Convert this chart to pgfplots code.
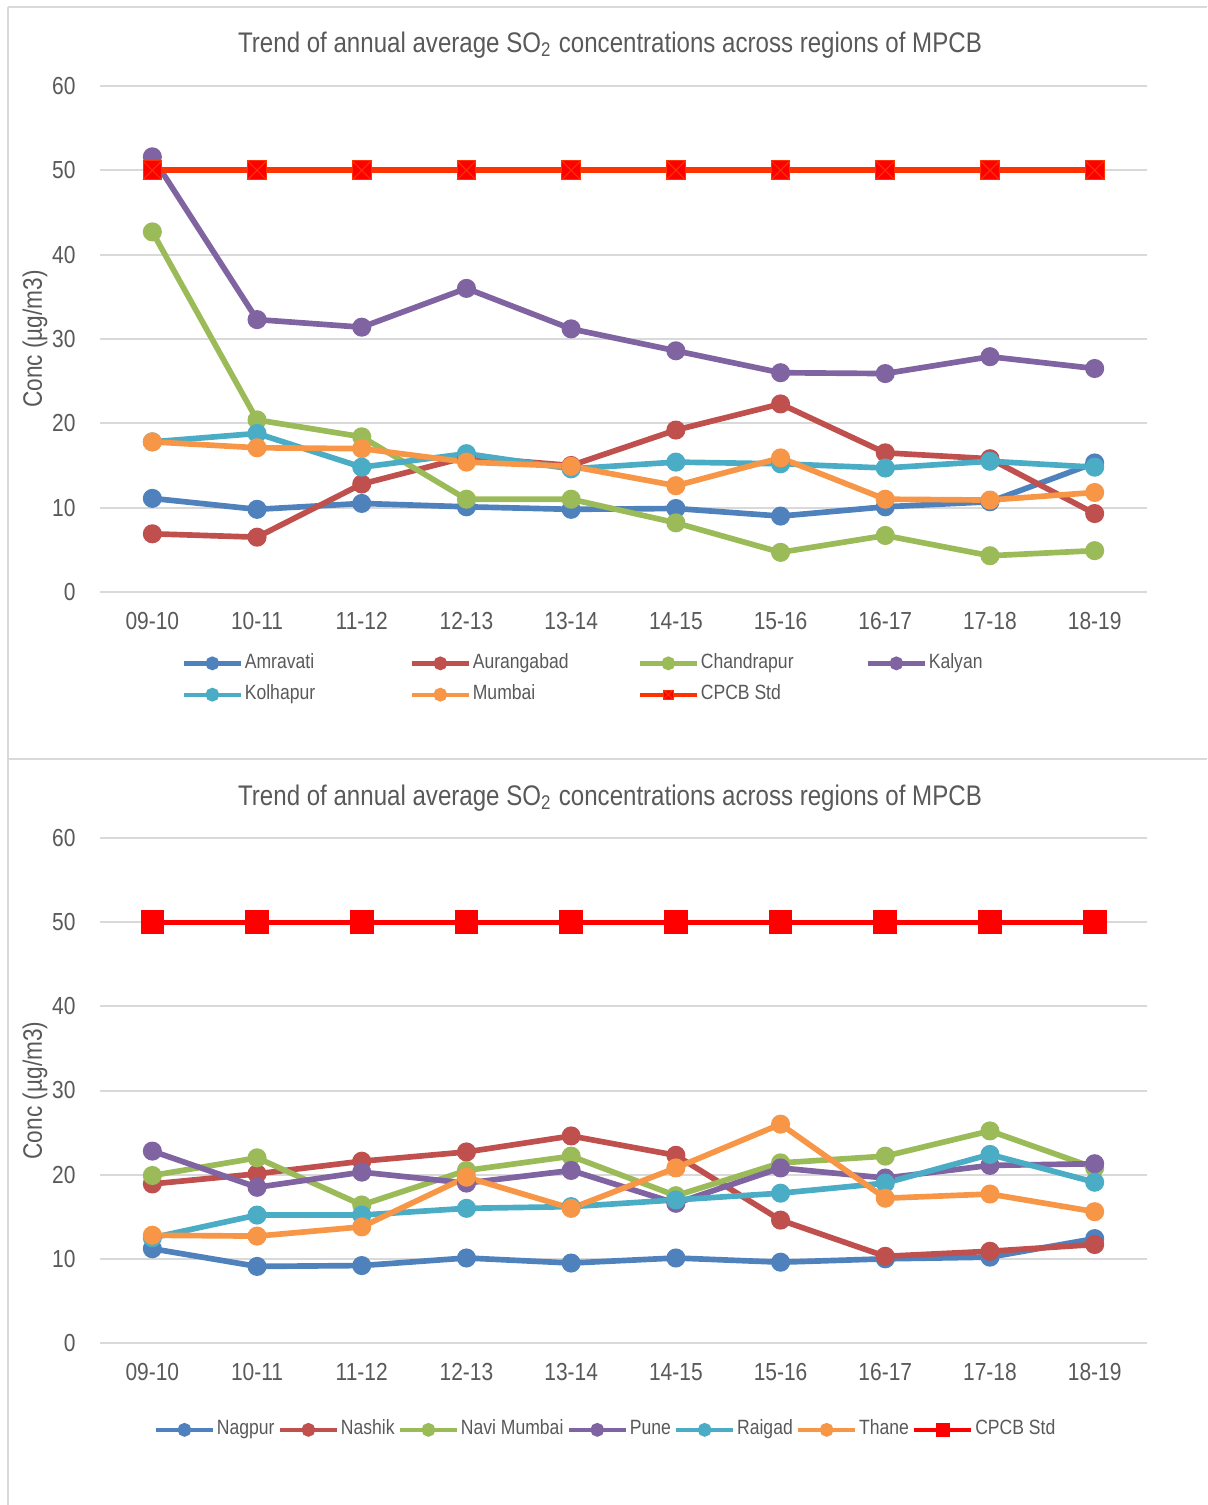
\documentclass[border=0pt]{standalone}
\usepackage{pgfplots}
\usepackage{pgfplotstable}
\pgfplotsset{compat=1.18}
\usepackage{fontspec}
\setmainfont[FakeStretch=0.85]{Liberation Sans}
\definecolor{txt}{HTML}{595959}
\definecolor{gridc}{HTML}{D9D9D9}
\definecolor{cA}{HTML}{4F81BD}
\definecolor{cB}{HTML}{C0504D}
\definecolor{cC}{HTML}{9BBB59}
\definecolor{cD}{HTML}{8064A2}
\definecolor{cE}{HTML}{4BACC6}
\definecolor{cF}{HTML}{F79646}
\definecolor{cpcbA}{HTML}{FF3300}
\definecolor{cpcbB}{HTML}{FF0000}

\pgfdeclareplotmark{sqx}{%
  \pgfpathrectangle{\pgfqpoint{-\pgfplotmarksize}{-\pgfplotmarksize}}{\pgfqpoint{2\pgfplotmarksize}{2\pgfplotmarksize}}%
  \pgfusepathqfillstroke
  \pgfpathmoveto{\pgfqpoint{-\pgfplotmarksize}{-\pgfplotmarksize}}%
  \pgfpathlineto{\pgfqpoint{\pgfplotmarksize}{\pgfplotmarksize}}%
  \pgfpathmoveto{\pgfqpoint{-\pgfplotmarksize}{\pgfplotmarksize}}%
  \pgfpathlineto{\pgfqpoint{\pgfplotmarksize}{-\pgfplotmarksize}}%
  \pgfusepathqstroke}

\pgfplotstableread{
x Amravati Aurangabad Chandrapur Kalyan Kolhapur Mumbai CPCB
0 11.1 6.9 42.7 51.6 17.8 17.8 50
1 9.8 6.5 20.4 32.3 18.8 17.1 50
2 10.5 12.8 18.4 31.4 14.8 17.0 50
3 10.1 16.0 11.0 36.0 16.4 15.4 50
4 9.8 15.0 11.0 31.2 14.6 14.9 50
5 9.9 19.2 8.2 28.6 15.4 12.6 50
6 9.0 22.3 4.7 26.0 15.2 15.9 50
7 10.1 16.5 6.7 25.9 14.7 11.0 50
8 10.7 15.8 4.3 27.9 15.5 10.9 50
9 15.3 9.3 4.9 26.5 14.8 11.8 50
}\tabtop

\pgfplotstableread{
x Nagpur Nashik NaviMumbai Pune Raigad Thane CPCB
0 11.2 18.9 19.9 22.8 12.5 12.8 50
1 9.1 20.1 22.0 18.5 15.2 12.7 50
2 9.2 21.6 16.4 20.3 15.2 13.8 50
3 10.1 22.7 20.5 19.0 16.0 19.7 50
4 9.5 24.6 22.2 20.5 16.2 16.0 50
5 10.1 22.3 17.5 16.6 17.0 20.8 50
6 9.6 14.6 21.4 20.8 17.8 26.0 50
7 10.0 10.3 22.2 19.6 19.0 17.2 50
8 10.2 10.9 25.2 21.1 22.4 17.7 50
9 12.4 11.7 20.8 21.3 19.1 15.6 50
}\tabbot

\pgfplotsset{
  myaxis/.style={
    scale only axis,
    width=314.1pt,
    xmin=-0.5, xmax=9.5,
    ymin=0, ymax=60,
    ytick={0,10,...,60},
    xtick={0,...,9},
    xticklabels={09-10,10-11,11-12,12-13,13-14,14-15,15-16,16-17,17-18,18-19},
    ymajorgrids,
    grid style={gridc, line width=0.6pt},
    axis line style={draw=none},
    tick style={draw=none},
    ticklabel style={font=\fontsize{7.4}{8}\selectfont, text=txt},
    yticklabel style={/pgf/number format/assume math mode=true, xshift=-3.8pt},
    xticklabel style={yshift=-2.6pt},
    every axis y label/.style={at={(axis description cs:-0.0621,0.5)}, rotate=90, anchor=center, font=\fontsize{8}{9}\selectfont, text=txt},
    ylabel={Conc (µg/m3)},
    every axis plot/.append style={line width=1.7pt, mark=*, mark size=2pt},
    legend image code/.code={%
      \draw[#1, line width=1.3pt, mark size=1.4pt, mark repeat=2, mark phase=2]
        plot coordinates {(0pt,0pt) (8.5pt,0pt) (17pt,0pt)};},
    legend style={draw=none, fill=none, font=\fontsize{6.2}{7}\selectfont, text=txt,
      nodes={inner xsep=0pt, inner ysep=1pt}},
    legend cell align=left,
  }
}

\begin{document}
\begin{tikzpicture}
\useasboundingbox (0,0) rectangle (362.1pt,451.5pt);
% panel borders
\draw[gridc, line width=0.6pt] (2.4pt,449.4pt) -- (362.1pt,449.4pt);
\draw[gridc, line width=0.6pt] (2.4pt,449.4pt) -- (2.4pt,0pt);
\draw[gridc, line width=0.6pt] (2.4pt,223.8pt) -- (362.1pt,223.8pt);

% titles
\node[text=txt, font=\fontsize{8.5}{10}\selectfont] at (183pt,438pt)
  {Trend of annual average SO\textsubscript{2} concentrations across regions of MPCB};
\node[text=txt, font=\fontsize{8.5}{10}\selectfont] at (183pt,212.1pt)
  {Trend of annual average SO\textsubscript{2} concentrations across regions of MPCB};

% top chart
\begin{axis}[myaxis, at={(30pt,273.9pt)}, anchor=south west, height=151.8pt,
  legend columns=4,
  legend style={at={(axis description cs:0.068,-0.172)}, anchor=west, row sep=1.4pt,
    /tikz/every odd column/.append style={column sep=0.6pt}}]
\addplot[cA, mark options={fill=cA}] table[x=x,y=Amravati]{\tabtop};
\addlegendentry{\makebox[49.5pt][l]{Amravati}}
\addplot[cB, mark options={fill=cB}] table[x=x,y=Aurangabad]{\tabtop};
\addlegendentry{\makebox[49.5pt][l]{Aurangabad}}
\addplot[cC, mark options={fill=cC}] table[x=x,y=Chandrapur]{\tabtop};
\addlegendentry{\makebox[49.5pt][l]{Chandrapur}}
\addplot[cD, mark options={fill=cD}] table[x=x,y=Kalyan]{\tabtop};
\addlegendentry{\makebox[49.5pt][l]{Kalyan}}
\addplot[cE, mark options={fill=cE}] table[x=x,y=Kolhapur]{\tabtop};
\addlegendentry{\makebox[49.5pt][l]{Kolhapur}}
\addplot[cF, mark options={fill=cF}] table[x=x,y=Mumbai]{\tabtop};
\addlegendentry{\makebox[49.5pt][l]{Mumbai}}
\addplot[cpcbA, mark=sqx, mark size=2.8pt, mark options={fill=cpcbB, draw=cpcbA, line width=0.3pt}] table[x=x,y=CPCB]{\tabtop};
\addlegendentry{\makebox[49.5pt][l]{CPCB Std}}
\end{axis}

% bottom chart
\begin{axis}[myaxis, at={(30pt,48.6pt)}, anchor=south west, height=151.5pt,
  legend columns=-1,
  legend style={at={(axis description cs:0.482,-0.172)}, anchor=center,
    /tikz/every odd column/.append style={column sep=0.6pt},
    /tikz/every even column/.append style={column sep=1.0pt}}]
\addplot[cA, mark options={fill=cA}] table[x=x,y=Nagpur]{\tabbot};
\addlegendentry{Nagpur}
\addplot[cB, mark options={fill=cB}] table[x=x,y=Nashik]{\tabbot};
\addlegendentry{Nashik}
\addplot[cC, mark options={fill=cC}] table[x=x,y=NaviMumbai]{\tabbot};
\addlegendentry{Navi Mumbai}
\addplot[cD, mark options={fill=cD}] table[x=x,y=Pune]{\tabbot};
\addlegendentry{Pune}
\addplot[cE, mark options={fill=cE}] table[x=x,y=Raigad]{\tabbot};
\addlegendentry{Raigad}
\addplot[cF, mark options={fill=cF}] table[x=x,y=Thane]{\tabbot};
\addlegendentry{Thane}
\addplot[cpcbB, line width=1.5pt, mark=square*, mark size=2.8pt, mark options={fill=cpcbB, draw=cpcbB}] table[x=x,y=CPCB]{\tabbot};
\addlegendentry{CPCB Std}
\end{axis}
\end{tikzpicture}
\end{document}
